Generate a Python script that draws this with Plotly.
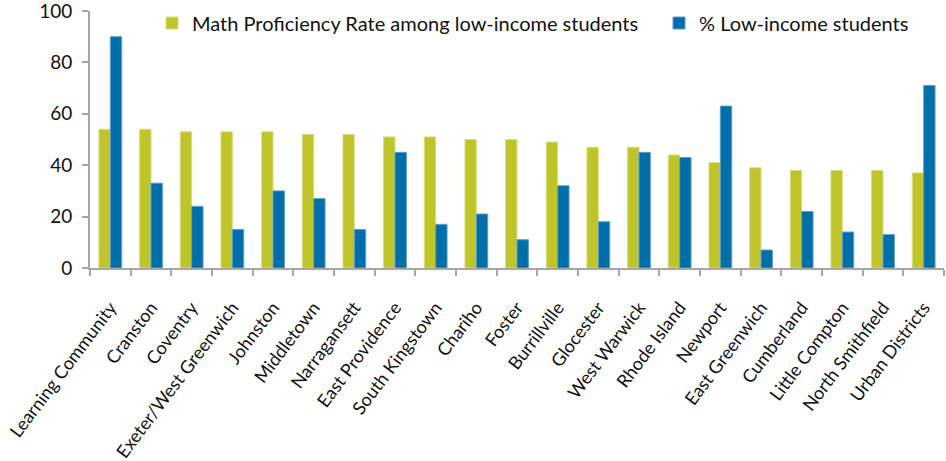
import plotly.graph_objects as go

categories = ["Learning Community", "Cranston", "Coventry", "Exeter/West Greenwich", "Johnston",
              "Middletown", "Narragansett", "East Providence", "South Kingstown", "Chariho",
              "Foster", "Burrillville", "Glocester", "West Warwick", "Rhode Island", "Newport",
              "East Greenwich", "Cumberland", "Little Compton", "North Smithfield", "Urban Districts"]
math_rate = [54, 54, 53, 53, 53, 52, 52, 51, 51, 50, 50, 49, 47, 47, 44, 41, 39, 38, 38, 38, 37]
low_income = [90, 33, 24, 15, 30, 27, 15, 45, 17, 21, 11, 32, 18, 45, 43, 63, 7, 22, 14, 13, 71]
y_ticks = [0, 20, 40, 60, 80, 100]

FONT = "Lato, 'Open Sans', sans-serif"
W, H = 946, 461
L, R, T, B = 90, 2, 11, 193
PW, PH = W - L - R, H - T - B

fig = go.Figure()
fig.add_trace(go.Bar(x=categories, y=math_rate, name="Math Proficiency Rate among low-income students",
                     marker=dict(color="#BFC42A", line=dict(color="#D9DC80", width=1)),
                     legend="legend"))
fig.add_trace(go.Bar(x=categories, y=low_income, name="% Low-income students",
                     marker=dict(color="#006EA8", line=dict(color="#5B9FC8", width=1)),
                     legend="legend2"))

leg_common = dict(orientation="h", xref="paper", yref="paper", xanchor="left",
                  yanchor="middle", font=dict(size=20, color="#111111"),
                  bgcolor="rgba(0,0,0,0)", itemwidth=30)

fig.update_layout(
    template="none",
    width=W, height=H,
    margin=dict(l=L, r=R, t=T, b=B, autoexpand=False),
    paper_bgcolor="white", plot_bgcolor="white",
    barmode="group", bargap=0.44, bargroupgap=0,
    font=dict(family=FONT, size=18, color="#111111"),
    showlegend=True,
    legend=dict(x=(152 - L) / PW, y=(H - B - 23) / PH, **leg_common),
    legend2=dict(x=(659 - L) / PW, y=(H - B - 23) / PH, **leg_common),
    xaxis=dict(automargin=False, showline=True, linecolor="#A6A6A6", linewidth=2, ticks="outside",
               tickson="boundaries", ticklen=6, tickcolor="#A6A6A6", tickwidth=2,
               tickangle=-53, tickfont=dict(size=18), showgrid=False, ticklabelstandoff=20),
    yaxis=dict(automargin=False, range=[0, 100], tickvals=y_ticks, showline=True, linecolor="#A6A6A6",
               linewidth=2, ticks="outside", ticklen=6, tickcolor="#A6A6A6", tickwidth=2,
               showgrid=False, zeroline=False, tickfont=dict(size=19), ticklabelstandoff=6,
               ticklabeloverflow="allow"),
)

fig.write_html("out.html", config={"displayModeBar": False},
               post_script="document.body.style.margin='0';")
